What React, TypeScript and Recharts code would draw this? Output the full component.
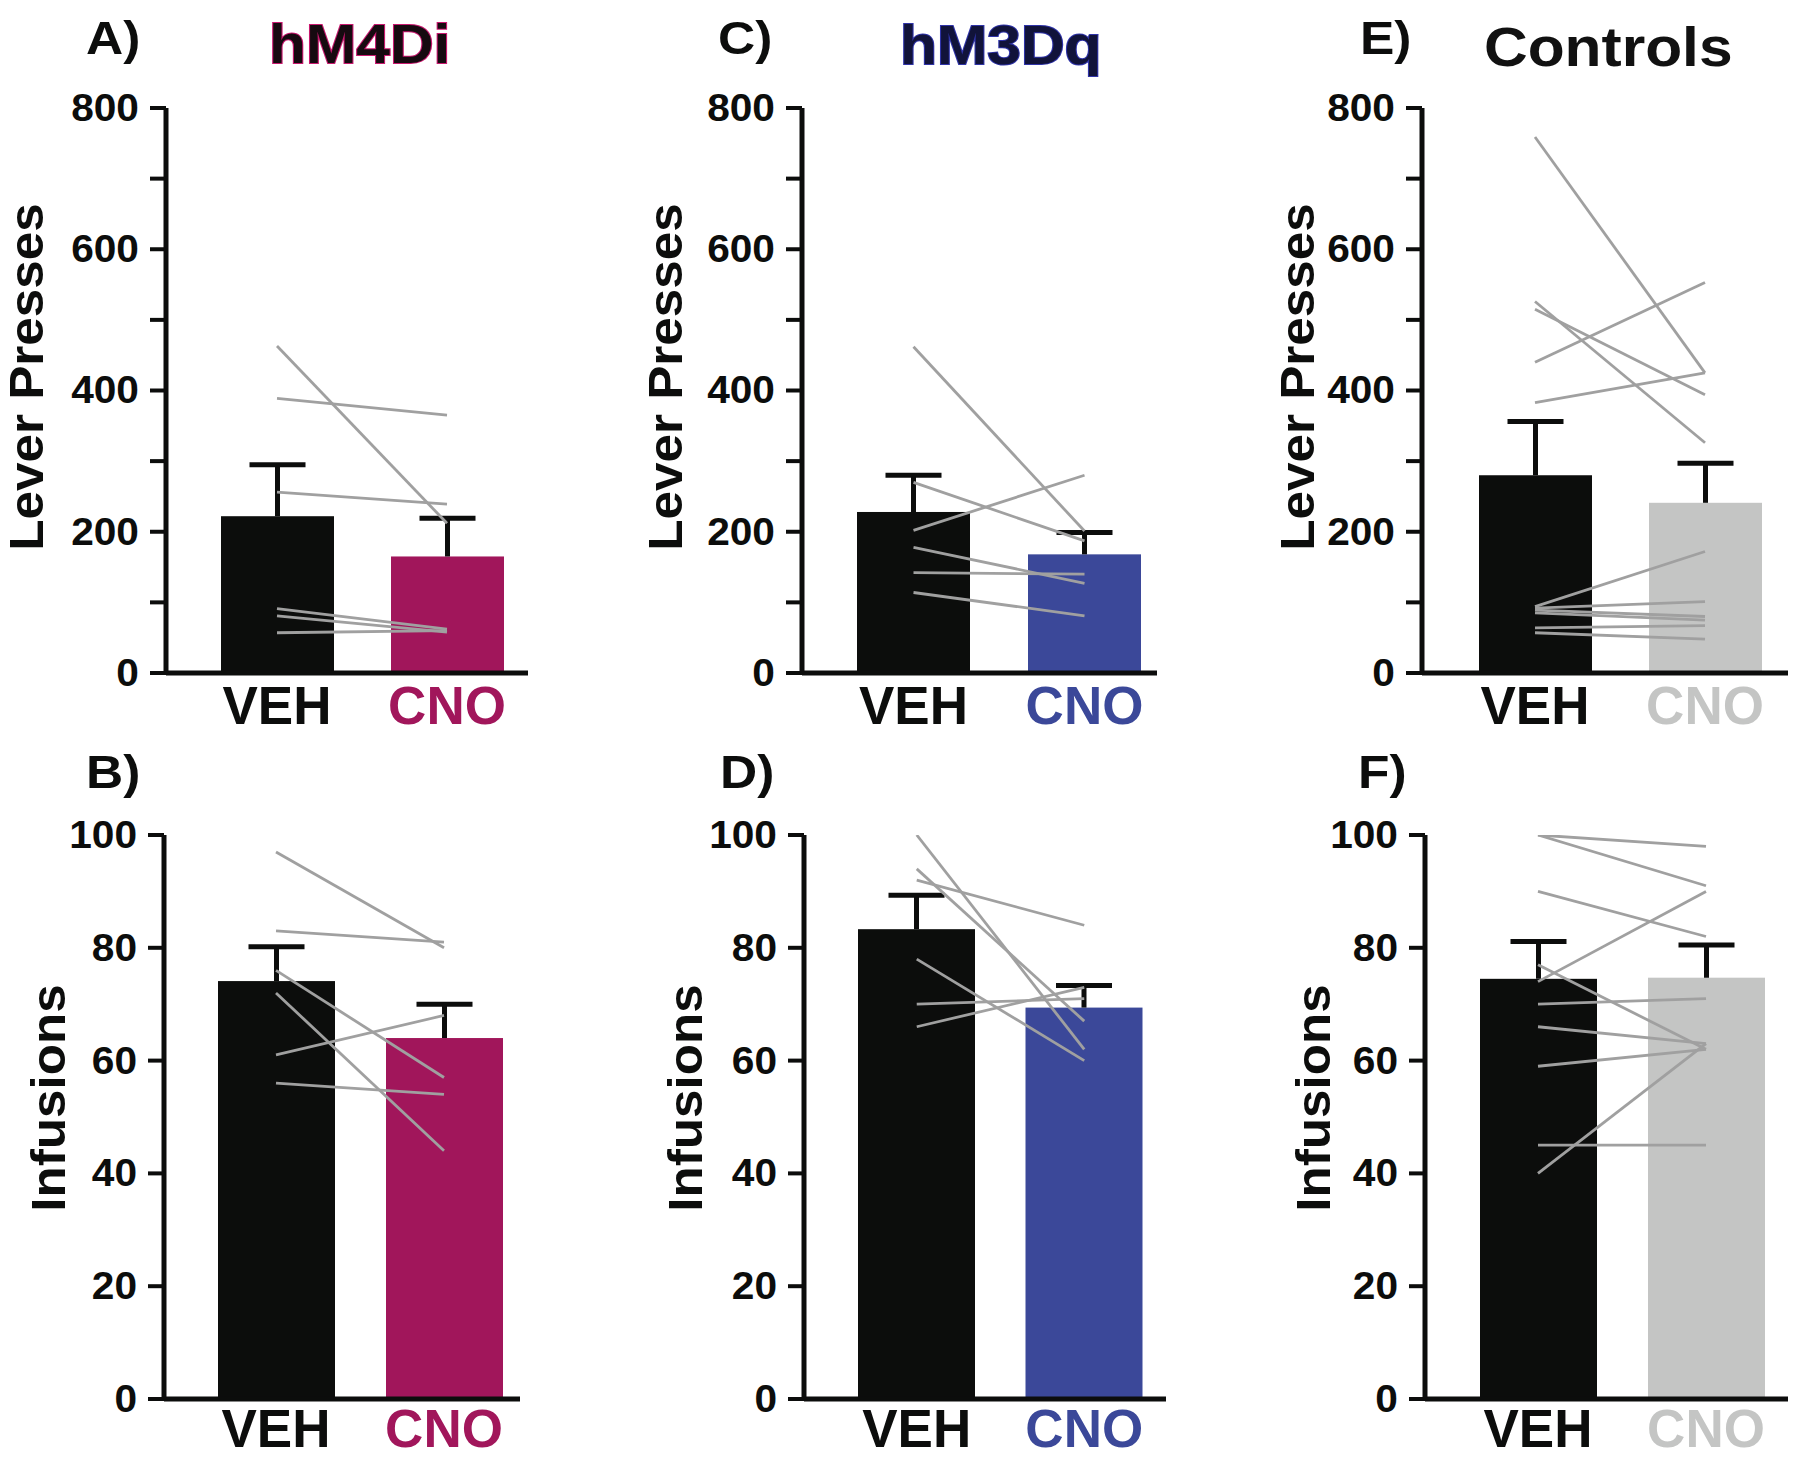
import React from "react";
import { ComposedChart, Bar, Cell, Line, XAxis, YAxis } from "recharts";

const conditions = ["VEH", "CNO"];

// A) hM4Di lever presses
const hm4diLeverMean = [222, 165];
const hm4diLeverSem = [73, 54];
const hm4diLeverVeh = [463, 389, 256, 91, 81, 57];
const hm4diLeverCno = [212, 365, 239, 62, 58, 60];

// C) hM3Dq lever presses
const hm3dqLeverMean = [228, 168];
const hm3dqLeverSem = [52, 31];
const hm3dqLeverVeh = [462, 270, 202, 178, 142, 114];
const hm3dqLeverCno = [201, 187, 280, 127, 140, 81];

// E) controls lever presses
const controlLeverMean = [280, 241];
const controlLeverSem = [76, 56];
const controlLeverVeh = [759, 526, 515, 440, 383, 94, 92, 89, 85, 64, 57];
const controlLeverCno = [425, 326, 394, 553, 425, 172, 101, 80, 75, 67, 48];

// B) hM4Di infusions
const hm4diInfMean = [74.1, 64.0];
const hm4diInfSem = [6.1, 6.0];
const hm4diInfVeh = [97, 83, 76, 72, 61, 56];
const hm4diInfCno = [80, 81, 57, 44, 68, 54];

// D) hM3Dq infusions
const hm3dqInfMean = [83.3, 69.4];
const hm3dqInfSem = [6.0, 3.9];
const hm3dqInfVeh = [100, 94, 92, 78, 70, 66];
const hm3dqInfCno = [62, 67, 84, 60, 71, 73];

// F) controls infusions
const controlInfMean = [74.5, 74.7];
const controlInfSem = [6.6, 5.8];
const controlInfVeh = [100, 100, 90, 74, 77, 70, 66, 59, 40, 45];
const controlInfCno = [98, 91, 82, 90, 62, 71, 63, 62, 63, 45];

const leverTicks = [0, 100, 200, 300, 400, 500, 600, 700, 800];
const leverLabelled = [0, 200, 400, 600, 800];
const infusionTicks = [0, 20, 40, 60, 80, 100];

const BLACK = "#0c0d0c";
const MAGENTA = "#a1165b";
const BLUE = "#3b4899";
const GREY = "#c4c5c4";
const SUBJECT = "#a0a0a0";
const FONT = "'Liberation Sans', Arial, sans-serif";

function buildRows(mean: number[], sem: number[], veh: number[], cno: number[]) {
  return conditions.map((cond, i) => {
    const row: any = { cond, mean: mean[i], sem: sem[i] };
    (i === 0 ? veh : cno).forEach((v, k) => (row["s" + k] = v));
    return row;
  });
}

const BarWithSem = (props: any) => {
  const { x, y, width, height, fill, payload } = props;
  const perUnit = payload.mean ? height / payload.mean : 0;
  const top = y - payload.sem * perUnit;
  const cx = x + width / 2;
  return (
    <g>
      <rect x={x} y={y} width={width} height={height} fill={fill} />
      <line x1={cx} x2={cx} y1={y} y2={top} stroke={BLACK} strokeWidth={5} />
      <line x1={cx - 28} x2={cx + 28} y1={top} y2={top} stroke={BLACK} strokeWidth={5} />
    </g>
  );
};

const stretch = (x: number, y: number, sx: number) =>
  `translate(${x} ${y}) scale(${sx} 1) translate(${-x} ${-y})`;

const panels = [
  {
    key: "A", left: 0, top: 0, width: 560, height: 740, yWidth: 166, mRight: 32, mTop: 108, mBottom: 7,
    xHeight: 60, padding: { left: 26, right: -4 }, barSize: 113, cno: MAGENTA, labelDy: 51,
    rows: buildRows(hm4diLeverMean, hm4diLeverSem, hm4diLeverVeh, hm4diLeverCno),
    domain: [0, 800], ticks: leverTicks, labelled: leverLabelled,
  },
  {
    key: "C", left: 560, top: 0, width: 620, height: 740, yWidth: 242, mRight: 23, mTop: 108, mBottom: 7,
    xHeight: 60, padding: { left: 26, right: -13 }, barSize: 113, cno: BLUE, labelDy: 51,
    rows: buildRows(hm3dqLeverMean, hm3dqLeverSem, hm3dqLeverVeh, hm3dqLeverCno),
    domain: [0, 800], ticks: leverTicks, labelled: leverLabelled,
  },
  {
    key: "E", left: 1180, top: 0, width: 620, height: 740, yWidth: 242, mRight: 12, mTop: 108, mBottom: 7,
    xHeight: 60, padding: { left: 28, right: -2 }, barSize: 113, cno: GREY, labelDy: 51,
    rows: buildRows(controlLeverMean, controlLeverSem, controlLeverVeh, controlLeverCno),
    domain: [0, 800], ticks: leverTicks, labelled: leverLabelled,
  },
  {
    key: "B", left: 0, top: 740, width: 560, height: 718, yWidth: 164, mRight: 40, mTop: 95, mBottom: 4,
    xHeight: 55, padding: { left: 28, right: -8 }, barSize: 117, cno: MAGENTA, labelDy: 48,
    rows: buildRows(hm4diInfMean, hm4diInfSem, hm4diInfVeh, hm4diInfCno),
    domain: [0, 100], ticks: infusionTicks, labelled: infusionTicks,
  },
  {
    key: "D", left: 560, top: 740, width: 620, height: 718, yWidth: 244, mRight: 14, mTop: 95, mBottom: 4,
    xHeight: 55, padding: { left: 29, right: -2 }, barSize: 117, cno: BLUE, labelDy: 48,
    rows: buildRows(hm3dqInfMean, hm3dqInfSem, hm3dqInfVeh, hm3dqInfCno),
    domain: [0, 100], ticks: infusionTicks, labelled: infusionTicks,
  },
  {
    key: "F", left: 1180, top: 740, width: 620, height: 718, yWidth: 245, mRight: 12, mTop: 95, mBottom: 4,
    xHeight: 55, padding: { left: 29, right: -2 }, barSize: 117, cno: GREY, labelDy: 48,
    rows: buildRows(controlInfMean, controlInfSem, controlInfVeh, controlInfCno),
    domain: [0, 100], ticks: infusionTicks, labelled: infusionTicks,
  },
];

function Panel({ p }: { p: any }) {
  const subjects = Object.keys(p.rows[0]).filter((k) => k.startsWith("s") && k !== "sem");
  const yTick = (props: any) => {
    const { x, y, payload } = props;
    if (!p.labelled.includes(payload.value)) return <g />;
    return (
      <text x={x} y={y} dy={13} textAnchor="end" fontSize={38} fontWeight={700} fontFamily={FONT}
        fill={BLACK} transform={stretch(x, y, 1.07)}>
        {payload.value}
      </text>
    );
  };
  const xTick = (props: any) => {
    const { x, y, payload } = props;
    return (
      <text x={x} y={y + p.labelDy} textAnchor="middle" fontSize={53} fontWeight={700} fontFamily={FONT}
        fill={payload.value === "VEH" ? BLACK : p.cno}>
        {payload.value}
      </text>
    );
  };
  return (
    <div style={{ position: "absolute", left: p.left, top: p.top }}>
      <ComposedChart width={p.width} height={p.height} data={p.rows}
        margin={{ top: p.mTop, right: p.mRight, bottom: p.mBottom, left: 0 }}>
        <XAxis dataKey="cond" type="category" interval={0} padding={p.padding} height={p.xHeight}
          axisLine={{ stroke: BLACK, strokeWidth: 5 }} tickLine={false} tickSize={0} tickMargin={0} tick={xTick} />
        <YAxis type="number" domain={p.domain} ticks={p.ticks} interval={0} width={p.yWidth}
          allowDataOverflow axisLine={{ stroke: BLACK, strokeWidth: 5 }}
          tickLine={{ stroke: BLACK, strokeWidth: 4 }} tickSize={16} tickMargin={11} tick={yTick} />
        <Bar dataKey="mean" barSize={p.barSize} shape={BarWithSem} isAnimationActive={false}>
          {p.rows.map((r: any) => (
            <Cell key={r.cond} fill={r.cond === "VEH" ? BLACK : p.cno} />
          ))}
        </Bar>
        {subjects.map((s) => (
          <Line key={s} dataKey={s} stroke={SUBJECT} strokeWidth={2.8} dot={false} activeDot={false}
            isAnimationActive={false} />
        ))}
      </ComposedChart>
    </div>
  );
}

const letters = [
  { t: "A)", x: 86, y: 54 },
  { t: "C)", x: 718, y: 54 },
  { t: "E)", x: 1360, y: 54 },
  { t: "B)", x: 86, y: 788 },
  { t: "D)", x: 720, y: 788 },
  { t: "F)", x: 1358, y: 788 },
];

const titles = [
  { t: "hM4Di", x: 269, y: 63, fill: "#160a10", stroke: "#c8196f" },
  { t: "hM3Dq", x: 900, y: 64, fill: "#11133a", stroke: "#2f33a8" },
  { t: "Controls", x: 1484, y: 66, fill: "#111111", stroke: "none" },
];

const yLabels = [
  { t: "Lever Presses", x: 26, y: 377 },
  { t: "Lever Presses", x: 665, y: 377 },
  { t: "Lever Presses", x: 1297, y: 377 },
  { t: "Infusions", x: 48, y: 1098 },
  { t: "Infusions", x: 685, y: 1098 },
  { t: "Infusions", x: 1313, y: 1098 },
];

export default function App() {
  return (
    <div style={{ position: "absolute", left: 0, top: 0, width: 1800, height: 1458, background: "#fff", overflow: "hidden" }}>
      {panels.map((p) => (
        <Panel key={p.key} p={p} />
      ))}
      <svg width={1800} height={1458} style={{ position: "absolute", left: 0, top: 0, pointerEvents: "none" }}>
        {letters.map((l) => (
          <text key={l.t} x={l.x} y={l.y} fontSize={46} fontWeight={700} fontFamily={FONT} fill={BLACK}
            transform={stretch(l.x, l.y, 1.12)}>
            {l.t}
          </text>
        ))}
        {titles.map((t) => (
          <text key={t.t} x={t.x} y={t.y} fontSize={56} fontWeight={700} fontFamily={FONT} fill={t.fill}
            stroke={t.stroke} strokeWidth={2} paintOrder="stroke" transform={stretch(t.x, t.y, 1.08)}>
            {t.t}
          </text>
        ))}
        {yLabels.map((l, i) => (
          <text key={i} x={0} y={0} dy={17} textAnchor="middle" fontSize={49} fontWeight={700} fontFamily={FONT}
            fill={BLACK} transform={`translate(${l.x} ${l.y}) rotate(-90) scale(1.045 1)`}>
            {l.t}
          </text>
        ))}
      </svg>
    </div>
  );
}
